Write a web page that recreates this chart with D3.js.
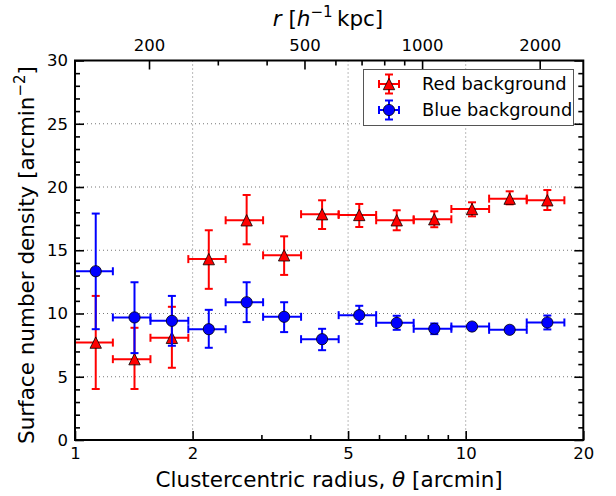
<!DOCTYPE html>
<html><head><meta charset="utf-8">
<script src="https://cdn.jsdelivr.net/npm/d3@7"></script>
<style>body{margin:0;background:#fff}svg{display:block;font-family:"DejaVu Sans",sans-serif}</style>
</head><body><svg id="c" width="616" height="496"></svg>
<script>
// ---- data ----
const binEdges = [1.00, 1.25, 1.56, 1.95, 2.43, 3.03, 3.79, 4.73, 5.90, 7.36, 9.19, 11.48, 14.33, 17.89];
const binCenters = [1.13, 1.42, 1.77, 2.20, 2.75, 3.43, 4.29, 5.34, 6.66, 8.31, 10.38, 12.96, 16.18];
const redValues = [7.70, 6.39, 8.08, 14.30, 17.37, 14.60, 17.85, 17.79, 17.37, 17.45, 18.26, 19.08, 18.95];
const redUpper  = [11.39, 8.87, 10.53, 16.58, 19.37, 16.10, 18.95, 18.66, 18.16, 18.08, 18.79, 19.66, 19.76];
const redLower  = [4.03, 4.03, 5.71, 11.95, 15.47, 13.05, 16.68, 16.84, 16.58, 16.82, 17.68, 18.63, 18.18];
const blueValues = [13.34, 9.69, 9.42, 8.76, 10.89, 9.74, 7.97, 9.87, 9.26, 8.79, 8.97, 8.71, 9.29];
const blueUpper  = [17.90, 12.47, 11.39, 10.29, 12.47, 10.89, 8.79, 10.61, 9.82, 9.21, 9.25, 8.95, 9.84];
const blueLower  = [8.76, 6.87, 7.45, 7.29, 9.32, 8.53, 7.10, 9.18, 8.71, 8.37, 8.69, 8.47, 8.74];
const xMajorTicks = [1, 2, 5, 10, 20];
const xMinorTicks = [3, 4, 6, 7, 8, 9];
const rMajorTicks = [200, 500, 1000, 2000];
const rMinorTicks = [300, 400, 600, 700, 800, 900];
const yMajorTicks = [0, 5, 10, 15, 20, 25, 30];
const yMinorTicks = d3.range(0, 31).filter(v => v % 5 !== 0);
const xGridTicks = [2, 5, 10];
const yGridTicks = [5, 10, 15, 20, 25];
const kpcPerArcmin = 129.3;
const seriesNames = ["Red background", "Blue background"];

// ---- layout ----
const svg = d3.select("#c");
const L = 75, R = 583.3, T = 60.5, B = 440;
const x = d3.scaleLog().domain([1, 20]).range([L, R]);
const xr = d3.scaleLog().domain([kpcPerArcmin * 1, kpcPerArcmin * 20]).range([L, R]);
const y = d3.scaleLinear().domain([0, 30]).range([B, T]);
const tickFont = 16.5, labelFont = 21.5;

// grid
const grid = svg.append("g").attr("stroke", "#777").attr("stroke-width", 1).attr("stroke-dasharray", "1,3");
xGridTicks.forEach(v => grid.append("line").attr("x1", x(v)).attr("x2", x(v)).attr("y1", T).attr("y2", B));
yGridTicks.forEach(v => grid.append("line").attr("x1", L).attr("x2", R).attr("y1", y(v)).attr("y2", y(v)));

function styleAxis(g) {
  g.select(".domain").remove();
  g.selectAll("line").attr("stroke", "#000").attr("stroke-width", 1.6);
  g.selectAll("text").attr("font-size", tickFont).attr("font-family", "DejaVu Sans").attr("fill", "#000");
}
const MAJ = 9, MIN = 5;
svg.append("g").attr("transform", `translate(0,${B})`)
  .call(d3.axisBottom(x).tickValues(xMajorTicks).tickFormat(d3.format("d")).tickSizeInner(-MAJ).tickSizeOuter(0).tickPadding(7)).call(styleAxis);
svg.append("g").attr("transform", `translate(0,${B})`)
  .call(d3.axisBottom(x).tickValues(xMinorTicks).tickFormat("").tickSizeInner(-MIN).tickSizeOuter(0)).call(styleAxis);
svg.append("g").attr("transform", `translate(0,${T})`)
  .call(d3.axisTop(xr).tickValues(rMajorTicks).tickFormat(d3.format("d")).tickSizeInner(-MAJ).tickSizeOuter(0).tickPadding(10)).call(styleAxis);
svg.append("g").attr("transform", `translate(0,${T})`)
  .call(d3.axisTop(xr).tickValues(rMinorTicks).tickFormat("").tickSizeInner(-MIN).tickSizeOuter(0)).call(styleAxis);
svg.append("g").attr("transform", `translate(${L},0)`)
  .call(d3.axisLeft(y).tickValues(yMajorTicks).tickFormat(d3.format("d")).tickSizeInner(-MAJ).tickSizeOuter(0).tickPadding(7)).call(styleAxis);
svg.append("g").attr("transform", `translate(${L},0)`)
  .call(d3.axisLeft(y).tickValues(yMinorTicks).tickFormat("").tickSizeInner(-MIN).tickSizeOuter(0)).call(styleAxis);
svg.append("g").attr("transform", `translate(${R},0)`)
  .call(d3.axisRight(y).tickValues(yMajorTicks).tickFormat("").tickSizeInner(-MAJ).tickSizeOuter(0)).call(styleAxis);
svg.append("g").attr("transform", `translate(${R},0)`)
  .call(d3.axisRight(y).tickValues(yMinorTicks).tickFormat("").tickSizeInner(-MIN).tickSizeOuter(0)).call(styleAxis);

// ---- series ----
const CAP = 4;
function drawErr(g, color, vals, lo, hi) {
  const eg = g.append("g").attr("stroke", color).attr("stroke-width", 2).attr("fill", "none");
  vals.forEach((v, i) => {
    const cx = x(binCenters[i]), cy = y(v);
    const x0 = x(binEdges[i]), x1 = x(binEdges[i + 1]);
    const y0 = y(lo[i]), y1 = y(hi[i]);
    eg.append("line").attr("x1", x0).attr("x2", x1).attr("y1", cy).attr("y2", cy);
    eg.append("line").attr("x1", x0).attr("x2", x0).attr("y1", cy - CAP).attr("y2", cy + CAP);
    eg.append("line").attr("x1", x1).attr("x2", x1).attr("y1", cy - CAP).attr("y2", cy + CAP);
    eg.append("line").attr("x1", cx).attr("x2", cx).attr("y1", y0).attr("y2", y1);
    eg.append("line").attr("x1", cx - CAP).attr("x2", cx + CAP).attr("y1", y0).attr("y2", y0);
    eg.append("line").attr("x1", cx - CAP).attr("x2", cx + CAP).attr("y1", y1).attr("y2", y1);
  });
}
const TRI = 5.7, CIRC = 5.6;
function triPath(cx, cy) { return `M${cx},${cy - TRI}L${cx + TRI},${cy + TRI}L${cx - TRI},${cy + TRI}Z`; }

const plot = svg.append("g");
drawErr(plot, "#ff0000", redValues, redLower, redUpper);
plot.append("g").selectAll("path").data(redValues).join("path")
  .attr("d", (v, i) => triPath(x(binCenters[i]), y(v))).attr("fill", "#ff0000").attr("stroke", "#000").attr("stroke-width", 0.8);
drawErr(plot, "#0000ff", blueValues, blueLower, blueUpper);
plot.append("g").selectAll("circle").data(blueValues).join("circle")
  .attr("cx", (v, i) => x(binCenters[i])).attr("cy", v => y(v)).attr("r", CIRC)
  .attr("fill", "#0000ff").attr("stroke", "#000").attr("stroke-width", 0.8);

// frame
svg.append("rect").attr("x", L).attr("y", T).attr("width", R - L).attr("height", B - T)
  .attr("fill", "none").attr("stroke", "#000").attr("stroke-width", 2);

// ---- legend ----
const lg = svg.append("g");
lg.append("rect").attr("x", 363.5).attr("y", 69.5).attr("width", 210).attr("height", 56)
  .attr("fill", "#fff").attr("stroke", "#555").attr("stroke-width", 1);
const legendRows = [
  { name: seriesNames[0], color: "#ff0000", shape: "tri", yy: 84 },
  { name: seriesNames[1], color: "#0000ff", shape: "circ", yy: 110 }
];
legendRows.forEach(r => {
  const mx = 389, my = r.yy, hw = 10, hh = 9.5;
  const g = lg.append("g").attr("stroke", r.color).attr("stroke-width", 2);
  g.append("line").attr("x1", mx - hw).attr("x2", mx + hw).attr("y1", my).attr("y2", my);
  g.append("line").attr("x1", mx - hw).attr("x2", mx - hw).attr("y1", my - CAP).attr("y2", my + CAP);
  g.append("line").attr("x1", mx + hw).attr("x2", mx + hw).attr("y1", my - CAP).attr("y2", my + CAP);
  g.append("line").attr("x1", mx).attr("x2", mx).attr("y1", my - hh).attr("y2", my + hh);
  g.append("line").attr("x1", mx - CAP).attr("x2", mx + CAP).attr("y1", my - hh).attr("y2", my - hh);
  g.append("line").attr("x1", mx - CAP).attr("x2", mx + CAP).attr("y1", my + hh).attr("y2", my + hh);
  if (r.shape === "tri") lg.append("path").attr("d", triPath(mx, my)).attr("fill", r.color).attr("stroke", "#000").attr("stroke-width", 0.8);
  else lg.append("circle").attr("cx", mx).attr("cy", my).attr("r", CIRC).attr("fill", r.color).attr("stroke", "#000").attr("stroke-width", 0.8);
  lg.append("text").attr("x", 422).attr("y", my + 6.3).attr("font-size", 17.8).attr("fill", "#000").text(r.name);
});

// ---- axis labels ----
const xl = svg.append("text").attr("x", (L + R) / 2).attr("y", 487).attr("text-anchor", "middle")
  .attr("font-size", labelFont).attr("fill", "#000");
xl.append("tspan").text("Clustercentric radius, ");
xl.append("tspan").attr("font-style", "italic").text("θ");
xl.append("tspan").text(" [arcmin]");

const tl = svg.append("text").attr("x", 328).attr("y", 26).attr("text-anchor", "middle")
  .attr("font-size", labelFont).attr("fill", "#000");
tl.append("tspan").attr("font-style", "italic").text("r");
tl.append("tspan").text(" [");
tl.append("tspan").attr("font-style", "italic").text("h");
tl.append("tspan").attr("font-size", "70%").attr("dy", "-0.6em").text("−1");
tl.append("tspan").attr("dy", "0.42em").attr("dx", "0.2em").text("kpc]");

const yl = svg.append("text").attr("transform", `translate(34,255) rotate(-90)`).attr("text-anchor", "middle")
  .attr("font-size", labelFont).attr("fill", "#000");
yl.append("tspan").text("Surface number density [arcmin");
yl.append("tspan").attr("font-size", "70%").attr("dy", "-0.6em").text("−2");
yl.append("tspan").attr("dy", "0.42em").text("]");
</script></body></html>
